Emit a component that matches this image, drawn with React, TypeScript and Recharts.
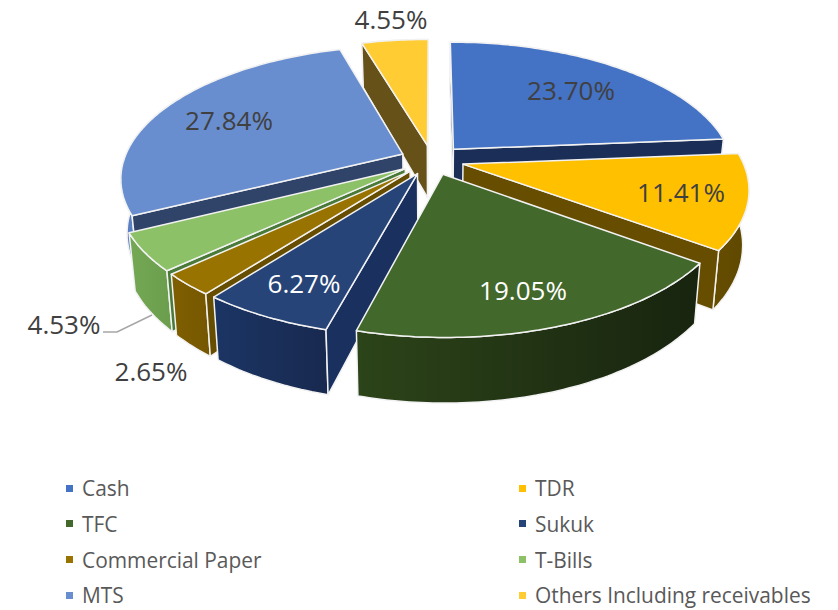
import React from 'react';
import { PieChart, Pie, Legend } from 'recharts';

// Portfolio allocation, percent of net assets
const categories = [
  'Cash',
  'TDR',
  'TFC',
  'Sukuk',
  'Commercial Paper',
  'T-Bills',
  'MTS',
  'Others Including receivables',
];
const allocation = [23.7, 11.41, 19.05, 6.27, 2.65, 4.53, 27.84, 4.55];

const topColors = ['#4472C4', '#FFC000', '#43682B', '#264478', '#997300', '#8CC168', '#698ED0', '#FFCD33'];
const sideColors = ['#1B2E57', '#664D00', '#1B2A11', '#1A3160', '#664D00', '#4A7A38', '#2F4468', '#665218'];
const wallLeft = ['#1B2E57', '#664D00', '#2C4419', '#1B3564', '#7F5F00', '#74A855', '#5A7FC2', '#665218'];
const wallRight = ['#1B2E57', '#5E4700', '#18240F', '#18294F', '#755700', '#6A9E4C', '#5A7FC2', '#665218'];

const labelColors = ['#404040', '#404040', '#FFFFFF', '#FFFFFF', '#404040', '#404040', '#404040', '#404040'];
const labelAnchors = [
  [571, 90],
  [681, 192],
  [523, 290],
  [304, 283],
  [151, 371],
  [64, 324],
  [229, 120],
  [391, 19],
];

// back-to-front, so nearer slices cover the walls of farther ones
const paintOrder = [7, 0, 6, 1, 5, 4, 3, 2];

const data = categories.map((name, i) => ({ name, value: allocation[i], fill: topColors[i] }));

const CX = 432;
const CY = 160;
const RADIUS = 279;
const TILT = 0.463;
const PERSPECTIVE = 0.174;
const EXPLODE = 0.115;
const DEPTH = 53;
const FLOOR_SCALE = 0.98;

// disc coordinates (x right, y towards the viewer, radius 1) to screen
const project = (x: number, y: number, floor: boolean, cx: number, cy: number, r: number) => {
  const s = 1 / (1 - PERSPECTIVE * y);
  const k = floor ? FLOOR_SCALE : 1;
  return [cx + r * x * s * k, cy + r * TILT * y * s + (floor ? DEPTH * s : 0)];
};

const toPath = (pts: number[][]) =>
  'M' + pts.map((p) => `${p[0].toFixed(1)},${p[1].toFixed(1)}`).join('L') + 'Z';

const cross = (o: number[], a: number[], b: number[]) =>
  (a[0] - o[0]) * (b[1] - o[1]) - (a[1] - o[1]) * (b[0] - o[0]);

const SliceShape = (props: any) => {
  const { cx, cy, outerRadius, startAngle, endAngle, index } = props;
  const a0 = ((90 - startAngle) * Math.PI) / 180;
  const a1 = ((90 - endAngle) * Math.PI) / 180;
  const mid = (a0 + a1) / 2;
  const ox = EXPLODE * Math.sin(mid);
  const oy = -EXPLODE * Math.cos(mid);

  const rim = (floor: boolean) => {
    const pts = [];
    const steps = Math.max(2, Math.ceil(((a1 - a0) * 180) / Math.PI));
    for (let i = 0; i <= steps; i++) {
      const t = a0 + ((a1 - a0) * i) / steps;
      pts.push(project(ox + Math.sin(t), oy - Math.cos(t), floor, cx, cy, outerRadius));
    }
    return pts;
  };

  const apexTop = project(ox, oy, false, cx, cy, outerRadius);
  const apexFloor = project(ox, oy, true, cx, cy, outerRadius);
  const top = rim(false);
  const floor = rim(true);
  const gradId = `wall-${index}`;
  const edge = { stroke: '#F2F2F2', strokeWidth: 1.5, strokeLinejoin: 'round' as const };

  // a cut face shows only when the floor drops to the far side of its edge from the slice itself
  const radialWall = (i: number, other: number) => {
    const side = cross(apexTop, top[i], top[other]);
    const drop = cross(apexTop, top[i], apexFloor);
    if (side * drop >= 0) return null;
    return <path d={toPath([apexTop, top[i], floor[i], apexFloor])} fill={sideColors[index]} {...edge} />;
  };

  return (
    <g>
      <defs>
        <linearGradient id={gradId} x1="0" y1="0" x2="1" y2="0">
          <stop offset="0" stopColor={wallLeft[index]} />
          <stop offset="1" stopColor={wallRight[index]} />
        </linearGradient>
      </defs>
      <path d={toPath([...top, ...[...floor].reverse()])} fill={`url(#${gradId})`} {...edge} />
      {radialWall(0, top.length - 1)}
      {radialWall(top.length - 1, 0)}
      <path d={toPath([apexTop, ...top])} fill={topColors[index]} {...edge} />
    </g>
  );
};

const ValueLabel = (props: any) => {
  const { index, value } = props;
  const [x, y] = labelAnchors[index];
  return (
    <text
      x={x}
      y={y}
      textAnchor="middle"
      dominantBaseline="central"
      fill={labelColors[index]}
      fontFamily="'Open Sans', sans-serif"
      fontSize={26}
    >
      {`${value.toFixed(2)}%`}
    </text>
  );
};

// only T-Bills sits far enough out to need a leader
const LeaderLine = (props: any) =>
  props.index === 5 ? <path d="M103,332L117,332L152,315" fill="none" stroke="#A6A6A6" strokeWidth={1.5} /> : <g />;

const LegendGrid = () => (
  <div
    style={{
      display: 'grid',
      gridTemplateColumns: '453px 1fr',
      gridTemplateRows: 'repeat(4, 22px)',
      rowGap: 13.8,
      paddingLeft: 66,
      fontFamily: "'Open Sans', sans-serif",
      fontSize: 20.9,
      lineHeight: '22px',
      color: '#595959',
    }}
  >
    {data.map((entry) => (
      <div key={entry.name} style={{ display: 'flex', alignItems: 'center', whiteSpace: 'nowrap' }}>
        <span style={{ width: 7, height: 7, background: entry.fill, marginRight: 9 }} />
        {entry.name}
      </div>
    ))}
  </div>
);

const App = () => (
  <div style={{ position: 'absolute', left: 0, top: 0, width: 838, height: 610 }}>
    <PieChart width={838} height={610} margin={{ top: 0, right: 0, bottom: 0, left: 0 }}>
      {paintOrder.map((slice) => (
        <Pie
          key={slice}
          data={data}
          dataKey="value"
          nameKey="name"
          cx={CX}
          cy={CY}
          outerRadius={RADIUS}
          startAngle={90}
          endAngle={-270}
          legendType="none"
          isAnimationActive={false}
          shape={(props: any) => (props.index === slice ? <SliceShape {...props} /> : <g />)}
        />
      ))}
      <Pie
        data={data}
        dataKey="value"
        nameKey="name"
        cx={CX}
        cy={CY}
        outerRadius={RADIUS}
        startAngle={90}
        endAngle={-270}
        isAnimationActive={false}
        shape={() => <g />}
        label={ValueLabel}
        labelLine={LeaderLine}
      />
      <Legend content={LegendGrid} wrapperStyle={{ left: 0, top: 477, width: 838, bottom: 'auto' }} />
    </PieChart>
  </div>
);

export default App;
